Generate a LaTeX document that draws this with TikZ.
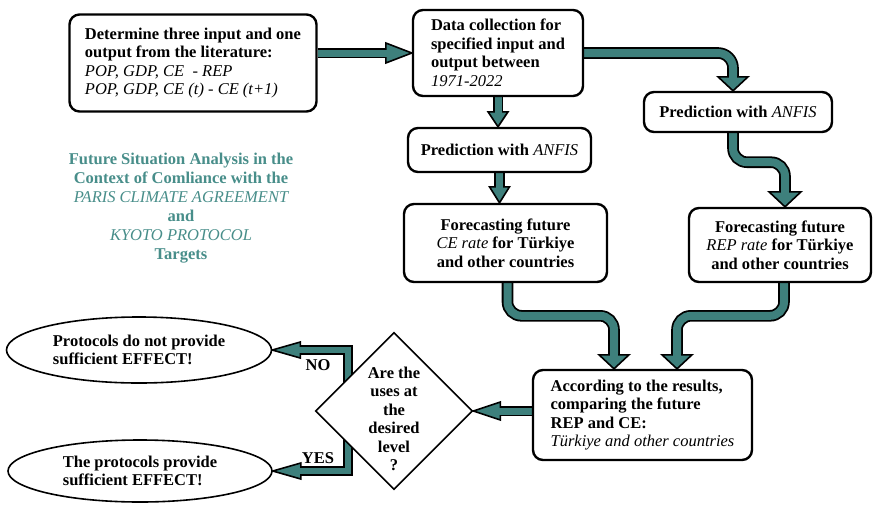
\documentclass[tikz,border=0pt]{standalone}
\usepackage{fontspec}
\setmainfont{Liberation Serif}
\usetikzlibrary{shapes.geometric,calc}
\pgfdeclarelayer{back}
\pgfdeclarelayer{bg}
\pgfsetlayers{back,bg,main}
\definecolor{tealA}{RGB}{62,128,124}
\definecolor{tealT}{RGB}{72,142,138}
\newcommand\itx[1]{{\normalfont\itshape #1}}
\newcommand\fathead[5]{%
  \begin{scope}[shift={(#1)},rotate=#2]
    \filldraw[fill=tealA,draw=black,line width=1.6pt,line join=miter] (0,0) -- (-#4,#3/2) -- (-#4,-#3/2) -- cycle;
    \draw[tealA,line width=#5pt] (-#4-2.5,0) -- (-#4+2,0);
  \end{scope}}
\tikzset{
  box/.style={draw, line width=2.4pt, rounded corners=10pt, fill=white, inner sep=0pt,
    font={\fontsize{16.5}{18.5}\selectfont\bfseries}},
  txt/.style={inner sep=0pt, font={\fontsize{16.5}{18.5}\selectfont\bfseries}},
  shaftL/.style={draw=black, line width=1.8pt, double=tealA, double distance=8pt},
  shaftM/.style={draw=black, line width=1.6pt, double=tealA, double distance=7pt},
  shaftS/.style={draw=black, line width=1.6pt, double=tealA, double distance=6.5pt},
  oval/.style={ellipse, draw, line width=1.6pt, fill=white, inner sep=0pt, align=left,
    font={\fontsize{16.5}{18.5}\selectfont\bfseries}},
}
\begin{document}
\begin{tikzpicture}[x=1pt,y=-1pt]
\begin{pgfonlayer}{back}
\fill[white] (0,0) rectangle (875,504);
\end{pgfonlayer}
\useasboundingbox (0,0) rectangle (875,504);
% nodes
\node[box, minimum width=247pt, minimum height=97pt, align=left] (A) at (193,63)
  {Determine three input and one\\output from the literature:\\\itx{POP, GDP, CE\ \ - REP}\\\itx{POP, GDP, CE (t) - CE (t+1)}};
\node[box, minimum width=170pt, minimum height=86pt, align=left] (B) at (498,53)
  {Data collection for\\specified input and\\output between\\\itx{1971-2022}};
\node[box, minimum width=183pt, minimum height=44pt] (PL) at (499.5,150) {Prediction with \itx{ANFIS}};
\node[box, minimum width=188pt, minimum height=40pt] (PR) at (738,112) {Prediction with \itx{ANFIS}};
\node[box, minimum width=203pt, minimum height=78pt, align=center] (FC) at (505.5,243)
  {Forecasting future\\\itx{CE rate} for Türkiye\\and other countries};
\node[box, minimum width=182pt, minimum height=74pt, align=center] (FR) at (780,245)
  {Forecasting future\\\itx{REP rate} for Türkiye\\and other countries};
\node[box, minimum width=219pt, minimum height=90pt, align=left] (R) at (642.5,415)
  {According to the results,\\comparing the future\\REP and CE:\\\itx{Türkiye and other countries}};
\node[diamond, draw, line width=1.6pt, fill=white, minimum width=157pt, minimum height=157pt, inner sep=0pt] (D) at (394,411) {};
\node[txt, align=center] (Dt) at (394,419) {Are the\\uses at\\the\\desired\\level\\?};
\node[oval, minimum width=265pt, minimum height=66pt] (E1) at (139,350) {Protocols do not provide\\sufficient EFFECT!};
\node[oval, minimum width=264pt, minimum height=62pt] (E2) at (140,471) {The protocols provide\\sufficient EFFECT!};
\node[txt] (no) at (318,365) {NO};
\node[txt] (yes) at (318,458) {YES};
\node[inner sep=0pt, align=center, text=tealT, font={\fontsize{16.5}{19}\selectfont\bfseries}] (T) at (181,208)
  {Future Situation Analysis in the\\Context of Comliance with the\\\itx{PARIS CLIMATE AGREEMENT}\\and\\\itx{KYOTO PROTOCOL}\\Targets};
% arrows
\begin{pgfonlayer}{bg}
  % A -> B
  \coordinate (t1) at (B.west);
  \draw[shaftM] (A.east |- t1) -- ($(t1)+(-26,0)$);
  \fathead{t1}{0}{20}{26}{7}
  % B -> PR
  \coordinate (t2) at ($(PR.north)+(-5,0)$);
  \draw[shaftL, rounded corners=15pt] (B.east) -| ($(t2)+(0,-14)$);
  \fathead{t2}{-90}{30}{14}{8}
  % B -> PL
  \coordinate (t3) at (B.south |- PL.north);
  \draw[shaftM] (B.south) -- ($(t3)+(0,-15)$);
  \fathead{t3}{-90}{20}{15}{7}
  % PL -> FC
  \coordinate (t4) at (PL.south |- FC.north);
  \draw[shaftM] (PL.south) -- ($(t4)+(0,-16)$);
  \fathead{t4}{-90}{20}{16}{7}
  % PR -> FR
  \coordinate (t5) at ($(FR.north)+(5,0)$);
  \draw[shaftL, rounded corners=14pt] ($(PR.south)+(-5,0)$) -- ++(0,29) -| ($(t5)+(0,-15)$);
  \fathead{t5}{-90}{32}{15}{8}
  % FC -> R
  \coordinate (t6) at ($(R.north)+(-28.5,0)$);
  \draw[shaftL, rounded corners=14pt] ($(FC.south)+(2,0)$) |- ($(t6)+(0,-53)$) -- ($(t6)+(0,-14)$);
  \fathead{t6}{-90}{30}{14}{8}
  % FR -> R
  \coordinate (t7) at ($(R.north)+(34.5,0)$);
  \draw[shaftL, rounded corners=14pt] ($(FR.south)+(4,0)$) |- ($(t7)+(0,-53)$) -- ($(t7)+(0,-14)$);
  \fathead{t7}{-90}{30}{14}{8}
  % R -> D
  \draw[shaftM] (R.west |- D.east) -- ($(D.east)+(27,0)$);
  \fathead{D.east}{180}{18}{27}{7}
  % D -> E1 (NO)
  \draw[shaftS] ($(D.center)+(-46,0)$) |- ($(E1.east)+(28,0)$);
  \fathead{E1.east}{180}{16}{28}{6.5}
  % D -> E2 (YES)
  \draw[shaftS] ($(D.center)+(-46,0)$) |- ($(E2.east)+(28,0)$);
  \fathead{E2.east}{180}{16}{28}{6.5}
\end{pgfonlayer}
\end{tikzpicture}
\end{document}
